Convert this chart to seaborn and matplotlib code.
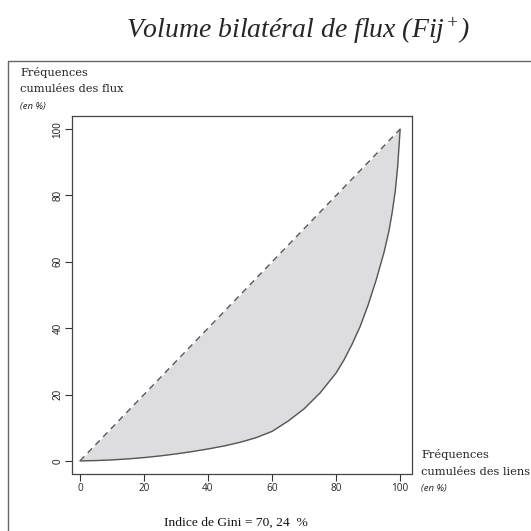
import matplotlib
matplotlib.use("Agg")
import matplotlib.pyplot as plt
from matplotlib.lines import Line2D
import seaborn as sns
import pandas as pd

# Lorenz curve (cumulative % of links vs cumulative % of flows)
liens = [0, 5, 10, 15, 20, 25, 30, 35, 40, 45, 50, 55, 60, 65, 70, 75,
         80, 82.5, 85, 87.5, 90, 92.5, 95, 96.5, 97.5, 98.5, 99.25, 100]
flux = [0, 0.1, 0.3, 0.6, 1.0, 1.5, 2.1, 2.8, 3.6, 4.5, 5.6, 7.0, 8.9, 12.0, 15.7, 20.5,
        26.5, 30.5, 35.2, 40.5, 47.0, 54.5, 63.0, 69.3, 74.8, 81.5, 89.0, 100]
egal_x = [0, 100]
egal_y = [0, 100]
ticks = [0, 20, 40, 60, 80, 100]
gini = "70, 24"

W = 531.0


def px(x, y):
    return x / W, 1 - y / W


sns.set_style("white")
fig = plt.figure(figsize=(5.31, 5.31), dpi=100)
ax = fig.add_axes([72.3 / W, 1 - 473.5 / W, 340 / W, 357.3 / W])

df = pd.DataFrame({"liens": liens, "flux": flux})
ax.fill_between(df["liens"], df["flux"], df["liens"], color="#dddddf", lw=0)
sns.lineplot(data=df, x="liens", y="flux", ax=ax, color="#555555", lw=1.0, sort=False)
sns.lineplot(x=egal_x, y=egal_y, ax=ax, color="#555555", lw=1.0, dashes=False)
ax.lines[-1].set_dashes((4.5, 3.5))

ax.set_xlim(-2.4, 103.8)
ax.set_ylim(-3.8, 103.9)
ax.set_xticks(ticks)
ax.set_yticks(ticks)
ax.set_xticklabels([str(t) for t in ticks], fontfamily="Open Sans", fontsize=7.2)
ax.set_yticklabels([str(t) for t in ticks], fontfamily="Liberation Sans", fontsize=7.2,
                   rotation=90, va="center")
ax.tick_params(direction="out", length=5, width=0.8, color="#333333", pad=2,
               left=True, bottom=True)
ax.set_xlabel("")
ax.set_ylabel("")
for s in ax.spines.values():
    s.set_color("#444444")
    s.set_linewidth(0.9)

# outer frame (top and left edges)
fig.add_artist(Line2D([8.3 / W, 8.3 / W, 1.0], [0, 1 - 61 / W, 1 - 61 / W],
                      transform=fig.transFigure, color="#666666", lw=1.0))

plt.rcParams["mathtext.fontset"] = "custom"
plt.rcParams["mathtext.it"] = "Liberation Serif:italic"
plt.rcParams["mathtext.rm"] = "Liberation Serif:italic"
fig.text(*px(298, 31), r"Volume bilatéral de flux $(Fij^{+})$", ha="center", va="center",
         fontfamily="Liberation Serif", style="italic", fontsize=20)

lab = dict(fontfamily="DejaVu Serif", fontsize=8.2, color="#222222", va="center", ha="left")
it = dict(fontfamily="Open Sans", style="italic", fontsize=6.8, color="#222222", va="center", ha="left")
fig.text(*px(20, 72), "Fréquences", **lab)
fig.text(*px(20, 89), "cumulées des flux", **lab)
fig.text(*px(20, 106), "(en %)", **it)
fig.text(*px(421, 455), "Fréquences", **lab)
fig.text(*px(421, 472), "cumulées des liens", **lab)
fig.text(*px(421, 489), "(en %)", **it)

fig.text(*px(236, 523), f"Indice de Gini = {gini}  %", ha="center", va="center",
         fontfamily="Liberation Serif", fontsize=9.7, color="#111111")

fig.savefig("out.png", dpi=100)
